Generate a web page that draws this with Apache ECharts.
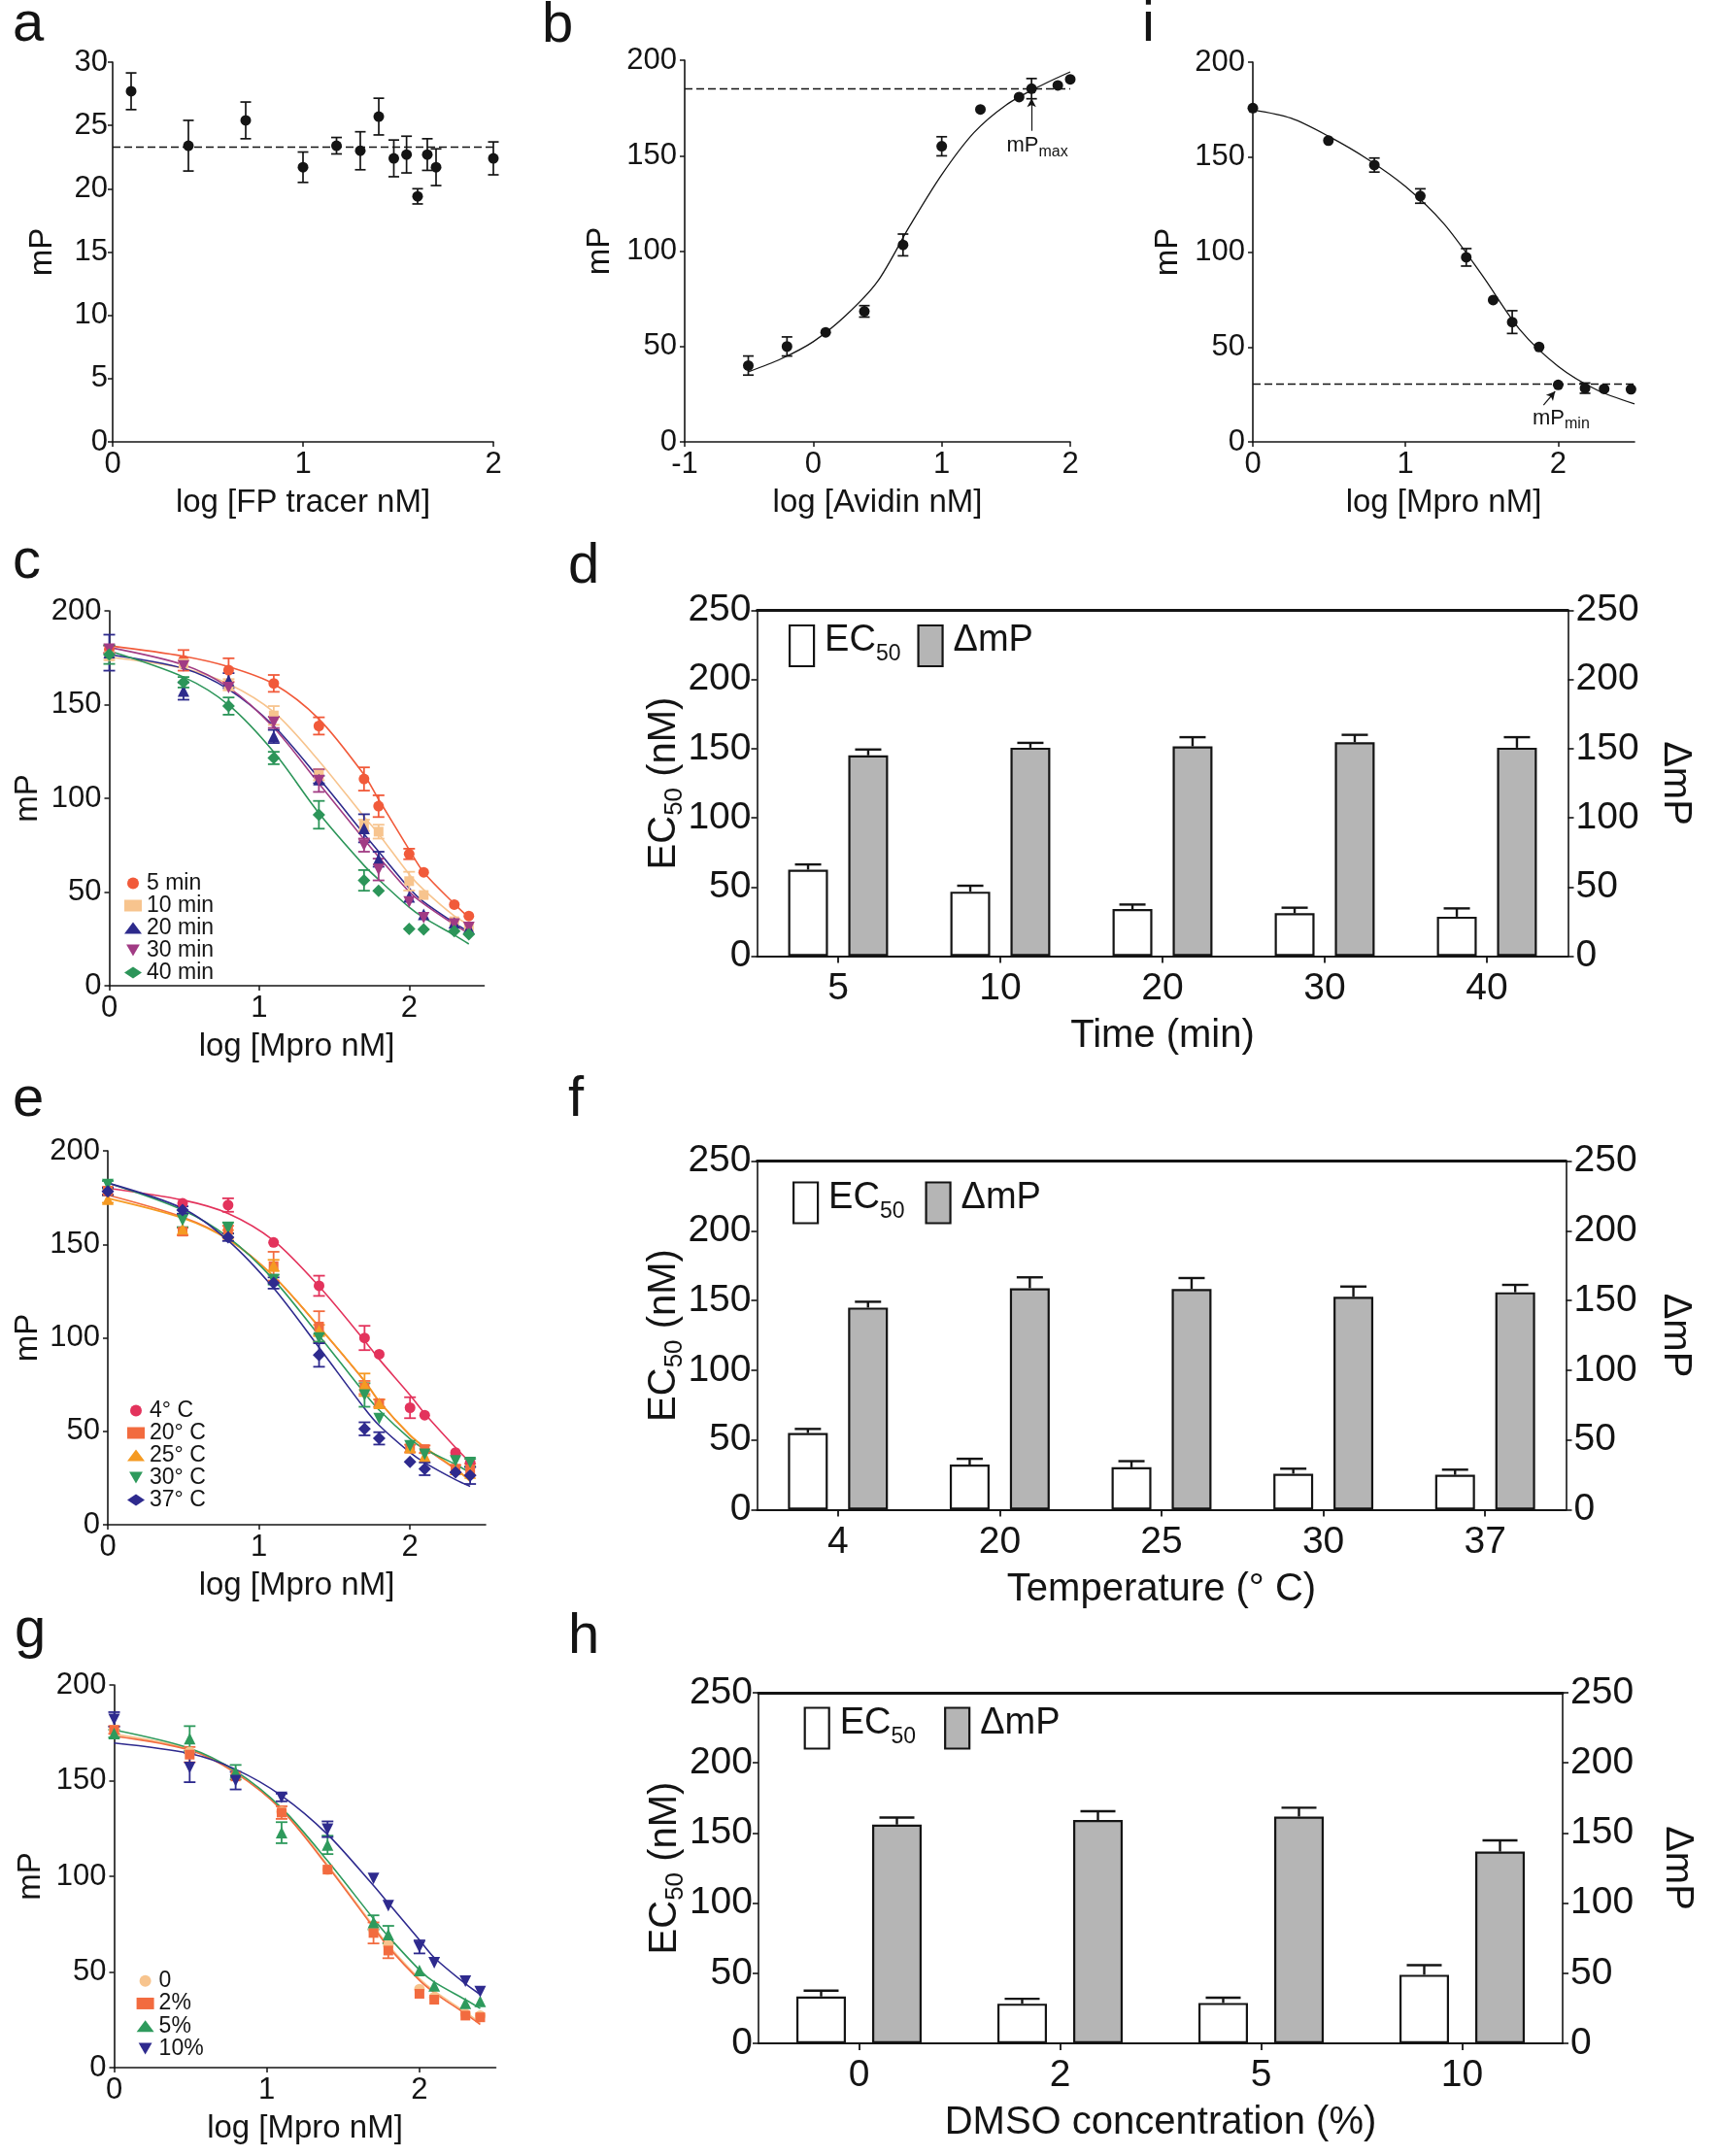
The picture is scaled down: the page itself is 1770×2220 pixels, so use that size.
<!DOCTYPE html>
<html>
<head>
<meta charset="utf-8">
<script src="https://cdn.jsdelivr.net/npm/echarts@6.0.0/dist/echarts.min.js"></script>
<style>
html,body{margin:0;padding:0;background:#ffffff;}
#chart{width:1770px;height:2220px;}
</style>
</head>
<body>
<div id="chart"></div>
<script>
// ================= DATA =================
// (a) FP tracer titration
const aX = [0.097, 0.398, 0.699, 1.0, 1.176, 1.301, 1.398, 1.477, 1.544, 1.602, 1.653, 1.699, 2.0];
const aY = [27.7, 23.4, 25.4, 21.7, 23.4, 23.0, 25.7, 22.4, 22.7, 19.4, 22.7, 21.7, 22.4];
const aErr = [1.45, 2.0, 1.45, 1.2, 0.65, 1.5, 1.45, 1.45, 1.45, 0.6, 1.25, 1.45, 1.3];
const aMean = 23.3;

// (b) Avidin titration
const bX = [-0.505, -0.204, 0.097, 0.398, 0.699, 1.0, 1.301, 1.602, 1.699, 1.903, 2.0];
const bY = [40, 50, 57.4, 68.4, 103.2, 154.9, 174.2, 180.7, 185.1, 186.8, 190];
const bErr = [5, 5, 0, 3, 5.7, 5, 0, 0, 5.3, 0, 0];
const bFitX = [-0.5, -0.25, 0, 0.25, 0.5, 0.75, 1.0, 1.25, 1.5, 1.75, 2.0];
const bFitY = [36.8, 43.5, 52.5, 66, 84, 113, 140, 162, 176.5, 186, 193.9];
const bMax = 185.1;

// (i) Mpro titration
const iX = [0, 0.495, 0.796, 1.097, 1.398, 1.574, 1.699, 1.875, 2.0, 2.176, 2.301, 2.477];
const iY = [175.8, 158.7, 145.8, 129.5, 97.2, 74.7, 63.1, 50, 30, 28.3, 27.9, 27.7];
const iErr = [0, 0, 3.7, 3.8, 4.6, 0, 6, 0, 0, 2.7, 0, 0];
const iFitX = [0, 0.25, 0.5, 0.75, 1.0, 1.25, 1.5, 1.75, 2.0, 2.25, 2.5];
const iFitY = [174.9, 170.5, 160.8, 149, 134.5, 115, 88, 59, 39.8, 27.5, 20];
const iMin = 30.6;

// shared x for panels c, e, g (log [Mpro nM])
const mproX = [0, 0.495, 0.796, 1.097, 1.398, 1.699, 1.796, 2.0, 2.097, 2.301, 2.398];
const xTicks012 = [0, 1, 2];

// (c) incubation time
const cNames = ['5 min', '10 min', '20 min', '30 min', '40 min'];
const c5Y = [179.5, 173.6, 168.4, 161.3, 138.6, 110.3, 95.8, 70.3, 60.5, 43.3, 37.2];
const c5Err = [2, 5.5, 6.3, 4.5, 4.6, 6.2, 5.8, 2.8, 0, 0, 0];
const c5Fit = [181.4, 175.8, 170.2, 161, 142.3, 112.6, 99.5, 72.6, 60.5, 43.7, 36.3];
const c10Y = [175.8, 172, 160.6, 144.2, 112.6, 85.6, 82.2, 55.8, 48.4, 34.4, 31.6];
const c10Err = [2, 0, 3, 5, 3, 3, 3.7, 5, 0, 0, 0];
const c10Fit = [175.4, 169.3, 161, 146, 120, 90.2, 81, 59.5, 51.2, 37.2, 32.6];
const c20Y = [177.7, 157.2, 162.8, 133, 110, 84, 67.5, 47.4, 38.1, 33.5, 30.7];
const c20Err = [9.6, 4.6, 4, 3.5, 2, 7.5, 4, 0, 0, 0, 0];
const c20Fit = [176.7, 169.3, 158.1, 138.6, 110.7, 81, 71.6, 52.1, 44.7, 33.5, 28.8];
const c30Y = [179.5, 170.6, 159.1, 140.5, 109.4, 75, 62, 44.7, 36.3, 32.9, 31.1];
const c30Err = [2, 0, 0, 3, 6, 3.5, 5.8, 0, 0, 0, 0];
const c30Fit = [180.5, 171.2, 159.1, 137.7, 107.9, 78.1, 68.8, 50.2, 43.7, 32.6, 27.9];
const c40Y = [176.7, 161.9, 149.2, 121.5, 91.2, 56.2, 50.6, 30.3, 30.1, 29.2, 27.5];
const c40Err = [5, 2.8, 4.6, 3.3, 7.4, 5.5, 0, 0, 0, 0, 0];
const c40Fit = [178.6, 164.7, 149.8, 124.7, 92.1, 64.2, 56.7, 41.9, 36.3, 27, 22.3];

// (e) temperature
const eNames = ['4° C', '20° C', '25° C', '30° C', '37° C'];
const e4Y = [178.3, 171.9, 171, 151, 127.8, 99.9, 91.2, 62.6, 58.6, 38.6, 33.2];
const e4Err = [0, 0, 3.6, 0, 5.4, 6.5, 0, 5.6, 0, 0, 0];
const e4Fit = [180, 173.7, 166.5, 152, 127.5, 98.5, 88.5, 69.4, 59.5, 41.3, 33.2];
const e20Y = [178.7, 156.8, 157.9, 138.3, 106, 73.4, 65, 40.8, 40.4, 29.9, 29.6];
const e20Err = [2, 2, 2, 7.7, 8.2, 3.5, 2, 2, 2, 2, 3];
const e20Fit = [176.4, 164.6, 152.9, 132.9, 105.7, 76.7, 65.8, 47.7, 41.3, 29.6, 24.1];
const e25Y = [174.2, 158.3, 155.6, 138.7, 103.9, 74.9, 65, 41.3, 36.8, 29.6, 27.7];
const e25Err = [2, 0, 2, 3, 3, 6, 2, 0, 0, 0, 0];
const e25Fit = [174.6, 164, 152.5, 133, 106, 77, 66, 48, 41.5, 30, 23.2];
const e30Y = [181.9, 162.8, 158.7, 131.1, 99.9, 69.4, 56.8, 42.2, 37.7, 34.1, 33.2];
const e30Err = [2, 3.6, 3, 2.6, 2, 6.3, 0, 0, 0, 0, 2];
const e30Fit = [182.8, 168.3, 153.8, 131.1, 101.2, 70.4, 61.3, 45.9, 40.4, 32.3, 27.7];
const e37Y = [178.3, 168.3, 153.8, 129.3, 90.8, 51.3, 46.2, 33.7, 29.9, 28.1, 26.3];
const e37Err = [2, 2, 2, 3, 6.3, 3.5, 3.3, 0, 3.4, 0, 4.5];
const e37Fit = [182.8, 169.2, 152, 126.6, 94.8, 62.2, 53.1, 38.6, 33.2, 24.1, 20.5];

// (g) DMSO
const gNames = ['0', '2%', '5%', '10%'];
const g0Y = [176.5, 165, 152.6, 133.8, 103.5, 72.2, 64, 41, 36.8, 28.1, 27.2];
const g0Err = [0, 0, 0, 0, 0, 0, 0, 0, 0, 0, 0];
const g0Fit = [174.3, 166.5, 154.5, 135.2, 106, 74, 64, 46.5, 40, 29, 23.5];
const g2Y = [176.5, 163.6, 152.2, 133.3, 103.5, 70.4, 61.2, 38.6, 35.5, 27.2, 26.3];
const g2Err = [2, 4, 0, 3.3, 0, 5.5, 4, 0, 0, 0, 0];
const g2Fit = [173.3, 166, 154, 134.7, 105.3, 73.2, 63, 45.6, 39.2, 28.1, 22.6];
const g5Y = [174.6, 172, 154.4, 122.8, 116.4, 75.9, 69.5, 50.7, 42.8, 33.6, 34.6];
const g5Err = [2, 6.5, 3.8, 5.5, 4.8, 3.7, 4.6, 0, 0, 0, 0];
const g5Fit = [176.5, 166.9, 155, 135.7, 108.1, 77.8, 68.6, 51.1, 44.7, 35.5, 30.9];
const g10Y = [182, 156.8, 150, 141.2, 124.6, 98.9, 84.6, 63.1, 54.8, 45.2, 39.7];
const g10Err = [3.8, 7.6, 4.6, 2, 4.1, 0, 0, 3.4, 0, 0, 0];
const g10Fit = [169.7, 164.2, 155.9, 142.1, 121.9, 95.2, 86, 66.7, 57.5, 43.8, 38.2];

// (d) bars vs time
const dCats = ['5', '10', '20', '30', '40'];
const dEC50 = [62.5, 46.6, 34, 31, 28.5];
const dEC50Err = [3.8, 4.3, 3.3, 4, 6];
const dDmP = [145.2, 150.7, 151.7, 154.7, 150.7];
const dDmPErr = [4.2, 3.5, 6.6, 5.3, 7.6];
// (f) bars vs temperature
const fCats = ['4', '20', '25', '30', '37'];
const fEC50 = [55, 32.3, 30.4, 25.8, 25];
const fEC50Err = [2.9, 4.2, 4.4, 3.6, 3.7];
const fDmP = [144.9, 158.8, 158.3, 152.7, 155.9];
const fDmPErr = [4.2, 7.8, 7.8, 7.3, 5.3];
// (h) bars vs DMSO
const hCats = ['0', '2', '5', '10'];
const hEC50 = [33.4, 28.3, 28.8, 48.9];
const hEC50Err = [4.2, 3.5, 3.8, 6.8];
const hDmP = [156, 159.2, 161.7, 136.7];
const hDmPErr = [5, 6.3, 6.3, 8];

// ================= STYLE =================
const FONT = '"Liberation Sans", Arial, Helvetica, sans-serif';
const INK = '#141414';
const GRAY = '#B5B5B5';
const EC_NAME = '{m|EC}{s|50}{m| (nM)}';
const DOWN_TRI = 'path://M0,0L10,0L5,8.66Z';

const cStyle = [
  {color: '#F15A3A', symbol: 'circle', size: 11},
  {color: '#F7C48E', symbol: 'rect', size: 10},
  {color: '#2D2A8C', symbol: 'triangle', size: 12},
  {color: '#A13B84', symbol: DOWN_TRI, size: 12},
  {color: '#2C9559', symbol: 'diamond', size: 13}
];
const eStyle = [
  {color: '#E3335C', symbol: 'circle', size: 11},
  {color: '#F26B3F', symbol: 'rect', size: 10},
  {color: '#F59A22', symbol: 'triangle', size: 12},
  {color: '#2E9A5C', symbol: DOWN_TRI, size: 12},
  {color: '#2E2A8E', symbol: 'diamond', size: 13}
];
const gStyle = [
  {color: '#F7C48E', symbol: 'circle', size: 11},
  {color: '#F26B3F', symbol: 'rect', size: 10},
  {color: '#2E9A5C', symbol: 'triangle', size: 12},
  {color: '#2E2A8E', symbol: DOWN_TRI, size: 12}
];

// ================= BUILDERS =================
function vx(gi, min, max, interval, name, nameGap, custom) {
  const ax = {
    type: 'value', gridIndex: gi, min, max, interval, name, nameLocation: 'middle', nameGap,
    nameMoveOverlap: false,
    nameTextStyle: {fontFamily: FONT, fontSize: 33, color: INK},
    axisLine: {show: true, onZero: false, lineStyle: {color: INK, width: 1.6}},
    axisTick: {show: true, inside: false, length: 5, lineStyle: {color: INK, width: 1.5}},
    axisLabel: {show: true, fontFamily: FONT, fontSize: 31, color: INK, margin: 8},
    splitLine: {show: false}
  };
  if (custom) { ax.axisTick.customValues = custom; ax.axisLabel.customValues = custom; }
  return ax;
}
function vy(gi, min, max, interval, name, nameGap, margin) {
  return {
    type: 'value', gridIndex: gi, min, max, interval, name, nameLocation: 'middle', nameGap,
    nameMoveOverlap: false,
    nameTextStyle: {fontFamily: FONT, fontSize: 33, color: INK},
    axisLine: {show: true, onZero: false, lineStyle: {color: INK, width: 1.6}},
    axisTick: {show: true, inside: false, length: 5, lineStyle: {color: INK, width: 1.5}},
    axisLabel: {show: true, fontFamily: FONT, fontSize: 31, color: INK, margin},
    splitLine: {show: false}
  };
}
function cx(gi, cats, name, nameGap) {
  return {
    type: 'category', gridIndex: gi, data: cats, position: 'bottom', name, nameLocation: 'middle', nameGap,
    nameMoveOverlap: false,
    nameTextStyle: {fontFamily: FONT, fontSize: 40, color: INK},
    axisLine: {show: true, onZero: false, lineStyle: {color: INK, width: 2.2}},
    axisTick: {show: true, alignWithLabel: true, length: 7, lineStyle: {color: INK, width: 1.8}},
    axisLabel: {fontFamily: FONT, fontSize: 39, color: INK, margin: 14},
    splitLine: {show: false}
  };
}
function cxTop(gi, cats) {
  return {
    type: 'category', gridIndex: gi, data: cats, position: 'top',
    axisLine: {show: true, onZero: false, lineStyle: {color: INK, width: 3}},
    axisTick: {show: false}, axisLabel: {show: false}, splitLine: {show: false}
  };
}
function by(gi, side, name, nameGap) {
  return {
    type: 'value', gridIndex: gi, position: side, min: 0, max: 250, interval: 50,
    name, nameLocation: 'middle', nameGap, nameRotate: side === 'right' ? -90 : 90,
    nameMoveOverlap: false,
    nameTextStyle: {
      fontFamily: FONT, fontSize: 40, color: INK,
      rich: {
        m: {fontFamily: FONT, fontSize: 40, color: INK},
        s: {fontFamily: FONT, fontSize: 26, color: INK, padding: [22, 0, 0, 0]}
      }
    },
    axisLine: {show: true, onZero: false, lineStyle: {color: INK, width: 1.6}},
    axisTick: {show: true, length: 6, lineStyle: {color: INK, width: 1.6}},
    axisLabel: {fontFamily: FONT, fontSize: 39, color: INK, margin: side === 'right' ? 8 : 6},
    splitLine: {show: false}
  };
}

function errSeries(xi, yi, xs, ys, errs, color, cap, width) {
  const data = [];
  xs.forEach((x, k) => { if (errs[k] > 0) data.push([x, ys[k] - errs[k], ys[k] + errs[k]]); });
  return {
    type: 'custom', xAxisIndex: xi, yAxisIndex: yi, data, silent: true, z: 3,
    encode: {x: 0, y: [1, 2]},
    renderItem(params, api) {
      const lo = api.coord([api.value(0), api.value(1)]);
      const hi = api.coord([api.value(0), api.value(2)]);
      const st = {stroke: color, lineWidth: width};
      return {type: 'group', children: [
        {type: 'line', shape: {x1: lo[0], y1: lo[1], x2: hi[0], y2: hi[1]}, style: st},
        {type: 'line', shape: {x1: lo[0] - cap, y1: lo[1], x2: lo[0] + cap, y2: lo[1]}, style: st},
        {type: 'line', shape: {x1: hi[0] - cap, y1: hi[1], x2: hi[0] + cap, y2: hi[1]}, style: st}
      ]};
    }
  };
}
function ptSeries(name, xi, yi, xs, ys, color, symbol, size) {
  return {
    type: 'scatter', name, xAxisIndex: xi, yAxisIndex: yi, silent: true, z: 4,
    data: xs.map((x, k) => [x, ys[k]]),
    symbol, symbolSize: size,
    itemStyle: {color, opacity: 1}
  };
}
function fitSeries(xi, yi, xs, ys, color, w) {
  return {
    type: 'line', xAxisIndex: xi, yAxisIndex: yi, silent: true, z: 2,
    data: xs.map((x, k) => [x, ys[k]]), smooth: 0.3, showSymbol: false, symbol: 'none',
    lineStyle: {color, width: w}
  };
}
function barErr(xi, yi, vals, errs, offset, cap) {
  return {
    type: 'custom', xAxisIndex: xi, yAxisIndex: yi, z: 5, silent: true,
    data: vals.map((v, k) => [k, v, v + errs[k]]),
    encode: {x: 0, y: [1, 2]},
    renderItem(params, api) {
      const b = api.coord([api.value(0), api.value(1)]);
      const t = api.coord([api.value(0), api.value(2)]);
      const x = b[0] + offset;
      const st = {stroke: INK, lineWidth: 2.4};
      return {type: 'group', children: [
        {type: 'line', shape: {x1: x, y1: b[1], x2: x, y2: t[1]}, style: st},
        {type: 'line', shape: {x1: x - cap, y1: t[1], x2: x + cap, y2: t[1]}, style: st}
      ]};
    }
  };
}

const series = [];
function addCurvePanel(xi, yi, names, X, Ys, Errs, Fits, styles) {
  names.forEach((n, k) => {
    const st = styles[k];
    series.push(fitSeries(xi, yi, X, Fits[k], st.color, 1.6));
    series.push(errSeries(xi, yi, X, Ys[k], Errs[k], st.color, 6, 1.8));
    series.push(ptSeries(n, xi, yi, X, Ys[k], st.color, st.symbol, st.size));
  });
}
function addBarPanel(xi, yL, yR, ec, ecErr, dm, dmErr, bw, gapPct, cap) {
  const off = bw * (1 + gapPct / 100) / 2;
  series.push({type: 'bar', name: 'EC50', xAxisIndex: xi, yAxisIndex: yL, data: ec, barWidth: bw,
    barGap: gapPct + '%', silent: true, z: 2,
    itemStyle: {color: '#ffffff', borderColor: INK, borderWidth: 2.2}});
  series.push({type: 'bar', name: 'ΔmP', xAxisIndex: xi, yAxisIndex: yR, data: dm, barWidth: bw,
    barGap: gapPct + '%', silent: true, z: 2,
    itemStyle: {color: GRAY, borderColor: INK, borderWidth: 2.2}});
  series.push(barErr(xi, yL, ec, ecErr, -off, cap));
  series.push(barErr(xi, yR, dm, dmErr, off, cap));
}

const annRich = {
  m: {fontFamily: FONT, fontSize: 22, color: INK},
  s: {fontFamily: FONT, fontSize: 16, color: INK, padding: [12, 0, 0, 0]}
};

// ---- (a)
series.push(errSeries(0, 0, aX, aY, aErr, INK, 5.5, 1.7));
series.push(Object.assign(ptSeries('a-pts', 0, 0, aX, aY, INK, 'circle', 11), {
  markLine: {silent: true, symbol: 'none', animation: false, label: {show: false},
    lineStyle: {type: [8, 4], color: INK, width: 1.4},
    data: [{yAxis: aMean}]}
}));
// ---- (b)
series.push(fitSeries(1, 1, bFitX, bFitY, INK, 1.3));
series.push(errSeries(1, 1, bX, bY, bErr, INK, 5.5, 1.7));
series.push(Object.assign(ptSeries('b-pts', 1, 1, bX, bY, INK, 'circle', 11), {
  markLine: {silent: true, symbol: 'none', animation: false, label: {show: false},
    lineStyle: {type: [8, 4], color: INK, width: 1.3},
    data: [
      {yAxis: bMax},
      [{coord: [1.699, 163], symbol: 'none', lineStyle: {type: 'solid', width: 1.2, color: INK}},
       {coord: [1.699, 180], symbol: 'arrow', symbolSize: [7, 9]}]
    ]},
  markPoint: {silent: true, symbol: 'rect', symbolSize: 0, animation: false,
    data: [{coord: [1.744, 155], label: {show: true, position: 'inside', formatter: '{m|mP}{s|max}', rich: annRich}}]}
}));
// ---- (i)
series.push(fitSeries(2, 2, iFitX, iFitY, INK, 1.3));
series.push(errSeries(2, 2, iX, iY, iErr, INK, 5.5, 1.7));
series.push(Object.assign(ptSeries('i-pts', 2, 2, iX, iY, INK, 'circle', 11), {
  markLine: {silent: true, symbol: 'none', animation: false, label: {show: false},
    lineStyle: {type: [8, 4], color: INK, width: 1.3},
    data: [
      {yAxis: iMin},
      [{coord: [1.904, 19.4], symbol: 'none', lineStyle: {type: 'solid', width: 1.2, color: INK}},
       {coord: [1.98, 26.6], symbol: 'arrow', symbolSize: [7, 9]}]
    ]},
  markPoint: {silent: true, symbol: 'rect', symbolSize: 0, animation: false,
    data: [{coord: [2.019, 12.3], label: {show: true, position: 'inside', formatter: '{m|mP}{s|min}', rich: annRich}}]}
}));
// ---- (c) (e) (g)
addCurvePanel(3, 3, cNames, mproX, [c5Y, c10Y, c20Y, c30Y, c40Y], [c5Err, c10Err, c20Err, c30Err, c40Err],
  [c5Fit, c10Fit, c20Fit, c30Fit, c40Fit], cStyle);
addCurvePanel(6, 6, eNames, mproX, [e4Y, e20Y, e25Y, e30Y, e37Y], [e4Err, e20Err, e25Err, e30Err, e37Err],
  [e4Fit, e20Fit, e25Fit, e30Fit, e37Fit], eStyle);
addCurvePanel(9, 9, gNames, mproX, [g0Y, g2Y, g5Y, g10Y], [g0Err, g2Err, g5Err, g10Err],
  [g0Fit, g2Fit, g5Fit, g10Fit], gStyle);
// ---- (d) (f) (h)
addBarPanel(4, 4, 5, dEC50, dEC50Err, dDmP, dDmPErr, 41, 51, 13.5);
addBarPanel(7, 7, 8, fEC50, fEC50Err, fDmP, fDmPErr, 41, 51, 13.5);
addBarPanel(10, 10, 11, hEC50, hEC50Err, hDmP, hDmPErr, 51, 53, 18);

// ================= LAYOUT =================
const grids = [
  {left: 116, top: 64, width: 392, height: 391},      // a
  {left: 705, top: 62, width: 397, height: 393},      // b
  {left: 1290, top: 64, width: 393, height: 391},     // i
  {left: 112.5, top: 629, width: 386, height: 386},   // c
  {left: 779.5, top: 628.5, width: 835, height: 356}, // d
  {left: 111, top: 1185, width: 389, height: 385},    // e
  {left: 779.5, top: 1195.5, width: 833, height: 359},// f
  {left: 117.5, top: 1735, width: 393, height: 394},  // g
  {left: 781, top: 1743, width: 828, height: 361}     // h
].map(g => Object.assign({containLabel: false, outerBoundsMode: 'none', show: false}, g));

const xAxis = [
  vx(0, 0, 2, 1, 'log [FP tracer nM]', 46),
  vx(1, -1, 2, 1, 'log [Avidin nM]', 46),
  vx(2, 0, 2.5, 1, 'log [Mpro nM]', 46, xTicks012),
  vx(3, 0, 2.5, 1, 'log [Mpro nM]', 46, xTicks012),
  cx(4, dCats, 'Time (min)', 62),
  cxTop(4, dCats),
  vx(5, 0, 2.5, 1, 'log [Mpro nM]', 46, xTicks012),
  cx(6, fCats, 'Temperature (° C)', 62),
  cxTop(6, fCats),
  vx(7, 0, 2.5, 1, 'log [Mpro nM]', 46, xTicks012),
  cx(8, hCats, 'DMSO concentration (%)', 62),
  cxTop(8, hCats)
];
const yAxis = [
  vy(0, 0, 30, 5, 'mP', 56, 5),
  vy(1, 0, 200, 50, 'mP', 71, 8),
  vy(2, 0, 200, 50, 'mP', 71, 8),
  vy(3, 0, 200, 50, 'mP', 67, 8),
  by(4, 'left', EC_NAME, 72),
  by(4, 'right', 'ΔmP', 91),
  vy(5, 0, 200, 50, 'mP', 66, 8),
  by(6, 'left', EC_NAME, 72),
  by(6, 'right', 'ΔmP', 93),
  vy(7, 0, 200, 50, 'mP', 69, 8),
  by(8, 'left', EC_NAME, 72),
  by(8, 'right', 'ΔmP', 98)
];

function curveLegend(left, top, names, lh) {
  return {left, top, orient: 'vertical', padding: 0, itemWidth: 18, itemHeight: 12, itemGap: 0,
    selectedMode: false, data: names,
    textStyle: {fontFamily: FONT, fontSize: 23, color: INK, lineHeight: lh}};
}
function barLegend(left, top, gap) {
  return {left, top, orient: 'horizontal', padding: 0, itemWidth: 25, itemHeight: 42, itemGap: gap,
    selectedMode: false,
    data: [
      {name: 'EC50', icon: 'rect', itemStyle: {color: '#ffffff', borderColor: INK, borderWidth: 2.2}},
      {name: 'ΔmP', icon: 'rect', itemStyle: {color: GRAY, borderColor: INK, borderWidth: 2.2}}
    ],
    formatter: n => n === 'EC50' ? '{m|EC}{s|50}' : '{m|ΔmP}',
    textStyle: {fontFamily: FONT, color: INK, fontSize: 38,
      rich: {
        m: {fontFamily: FONT, fontSize: 38, color: INK, padding: [0, 0, 10, 6]},
        s: {fontFamily: FONT, fontSize: 23, color: INK, padding: [18, 0, 0, 0]}
      }}};
}
const legend = [
  curveLegend(128, 898, cNames, 21.3),
  curveLegend(131, 1441, eNames, 21.3),
  curveLegend(140.6, 2028, gNames, 23.3),
  barLegend(812, 641, 17),
  barLegend(816, 1214.5, 21),
  barLegend(827.6, 1755.5, 29)
];

const letters = [['a', 13, 26], ['b', 558, 27], ['i', 1176, 26], ['c', 13, 579], ['d', 585, 584],
  ['e', 13, 1133], ['f', 585, 1133], ['g', 15, 1680], ['h', 585, 1686]];
const graphic = letters.map(([t, x, y]) => ({
  type: 'text', x, y, silent: true,
  style: {text: t, fontSize: 58, fontFamily: FONT, fill: INK, align: 'left', verticalAlign: 'middle'}
}));

const chart = echarts.init(document.getElementById('chart'), null, {renderer: 'canvas'});
chart.setOption({
  backgroundColor: '#ffffff',
  animation: false,
  textStyle: {fontFamily: FONT, color: INK},
  grid: grids,
  xAxis,
  yAxis,
  legend,
  graphic,
  tooltip: {show: false},
  series
});
</script>
</body>
</html>
